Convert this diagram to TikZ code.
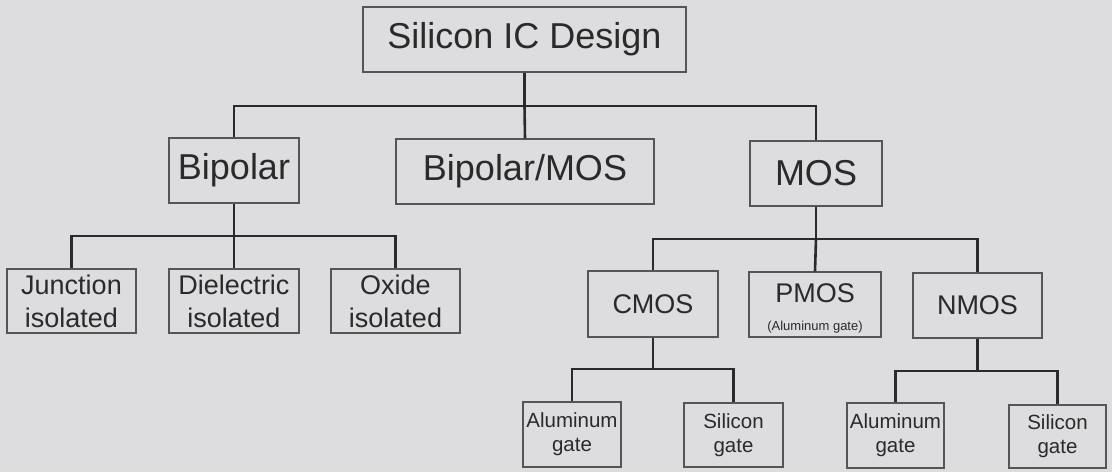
\documentclass[tikz,border=0pt]{standalone}
\usepackage{fontspec}
\setmainfont{Liberation Sans}
\usepackage{xcolor}
\usetikzlibrary{calc}
\definecolor{paper}{RGB}{221,221,223}
\definecolor{ink}{RGB}{42,42,42}
\definecolor{rim}{RGB}{85,85,85}
\newcommand{\bigtxt}{\fontsize{36}{43}\selectfont}
\newcommand{\midtxt}{\fontsize{27}{33}\selectfont}
\newcommand{\smalltxt}{\fontsize{20.5}{24}\selectfont}
\newcommand{\tinytxt}{\fontsize{13}{15}\selectfont}

\begin{document}
\begin{tikzpicture}[x=1pt, y=-1pt]
              \tikzset{box/.style={draw=rim, line width=1.2pt, inner sep=0pt, align=center, text=ink},
                       bigbox/.style={box, font=\bigtxt},
                       midbox/.style={box, font=\midtxt},
                       leafbox/.style={box, font=\smalltxt},
                       wire/.style={ink, line width=2.6pt}}

              \fill[paper] (0,0) rectangle (1112,472);

              % top level
              \node[bigbox, minimum width=323pt, minimum height=65pt] (silic) at (524.5,39.5) {Silicon IC Design};

              \node[bigbox, minimum width=130pt, minimum height=65pt] (bip) at (234,170.5) {Bipolar};
              \node[bigbox, minimum width=258pt, minimum height=65pt] (bimos) at (525,171.5) {Bipolar/MOS};
              \node[bigbox, minimum width=132pt, minimum height=65pt] (mos) at (816,173.5) {MOS};

              % bipolar branch
              \node[midbox, minimum width=129pt, minimum height=64pt] (jun) at (71.5,301) {Junction\\isolated};
              \node[midbox, minimum width=130pt, minimum height=64pt] (die) at (234,301) {Dielectric\\isolated};
              \node[midbox, minimum width=129pt, minimum height=64pt] (oxi) at (395.5,301) {Oxide\\isolated};

              % mos branch
              \node[midbox, minimum width=130pt, minimum height=66pt] (cmos) at (653,304) {CMOS};
              \node[midbox, minimum width=132pt, minimum height=65pt] (pmos) at (815,304.5)
                   {\rule{0pt}{27pt}PMOS\\[-5pt]\tinytxt (Aluminum gate)};
              \node[midbox, minimum width=129pt, minimum height=65pt] (nmos) at (977.5,305.5) {NMOS};

              \node[leafbox, minimum width=98pt, minimum height=65pt] (calu) at (572,434.5) {Aluminum\\gate};
              \node[leafbox, minimum width=99pt, minimum height=64pt] (csil) at (733.5,435) {Silicon\\gate};
              \node[leafbox, minimum width=97pt, minimum height=65pt] (nalu) at (895.5,435.5) {Aluminum\\gate};
              \node[leafbox, minimum width=97pt, minimum height=63pt] (nsil) at (1057.5,436.5) {Silicon\\gate};

              % bus heights
              \coordinate (busA) at (0,106);
              \coordinate (busB) at (0,236);
              \coordinate (busC) at (0,239);
              \coordinate (busD) at (0,369);
              \coordinate (busE) at (0,371);

              \draw[wire] (silic.south) -- (silic.south |- busA) -| (bip.north);
              \draw[wire] (silic.south |- busA) -| (mos.north);
              \draw[wire] (silic.south |- busA) -- (bimos.north);

              \draw[wire] (bip.south) -- (bip.south |- busB) -| (jun.north);
              \draw[wire] (bip.south |- busB) -| (oxi.north);
              \draw[wire] (bip.south |- busB) -- (die.north);

              \draw[wire] (mos.south) -- (mos.south |- busC) -| (cmos.north);
              \draw[wire] (mos.south |- busC) -| (nmos.north);
              \draw[wire] (mos.south |- busC) -- (pmos.north);

              \draw[wire] (cmos.south) -- (cmos.south |- busD) -| (calu.north);
              \draw[wire] (cmos.south |- busD) -| (csil.north);

              \draw[wire] (nmos.south) -- (nmos.south |- busE) -| (nalu.north);
              \draw[wire] (nmos.south |- busE) -| (nsil.north);
            \end{tikzpicture}
\end{document}
